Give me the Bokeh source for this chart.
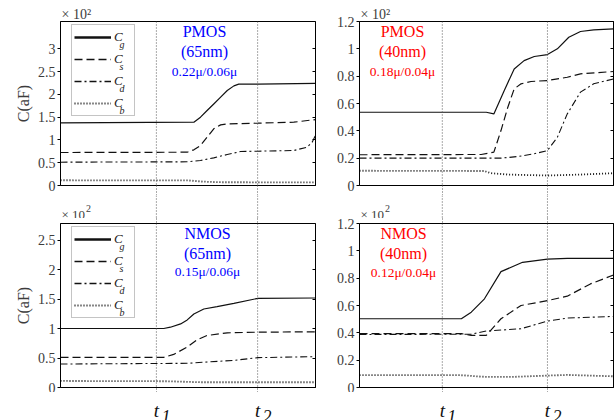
from bokeh.plotting import figure
from bokeh.models import (Range1d, LinearAxis, FixedTicker, Label, Legend,
                          LegendItem, Span, Title, CustomJSTickFormatter)
from bokeh.layouts import gridplot
from bokeh.embed import file_html
from bokeh.resources import INLINE

# ---------------- data (x = normalised time, y = C in units of 1e2 aF) ----------------
T_65 = [0.376, 0.773]          # t1, t2 (65nm column)
T_40 = [0.326, 0.740]          # t1, t2 (40nm column)
T_NAMES = ["1", "2"]

# PMOS 65nm
P65_CG_X = [0.0, 0.523, 0.549, 0.575, 0.601, 0.628, 0.654, 0.680, 0.699, 0.774, 1.0]
P65_CG_Y = [1.375, 1.39, 1.50, 1.646, 1.79, 1.94, 2.085, 2.187, 2.225, 2.225, 2.24]
P65_CS_X = [0.0, 0.497, 0.523, 0.549, 0.575, 0.601, 0.628, 0.654, 0.774, 0.915, 1.0]
P65_CS_Y = [0.724, 0.731, 0.783, 0.878, 1.061, 1.244, 1.331, 1.353, 1.368, 1.39, 1.448]
P65_CD_X = [0.0, 0.497, 0.549, 0.601, 0.654, 0.706, 0.774, 0.915, 0.967, 0.987, 1.0]
P65_CD_Y = [0.512, 0.52, 0.549, 0.607, 0.68, 0.746, 0.753, 0.768, 0.841, 0.951, 1.10]
P65_CB_X = [0.0, 0.50, 0.56, 0.62, 1.0]
P65_CB_Y = [0.115, 0.112, 0.085, 0.072, 0.068]

# PMOS 40nm
P40_CG_X = [0.0, 0.499, 0.529, 0.570, 0.609, 0.648, 0.688, 0.740, 0.779, 0.824, 0.870, 0.922, 1.0]
P40_CG_Y = [0.536, 0.536, 0.524, 0.695, 0.853, 0.914, 0.944, 0.958, 1.0, 1.085, 1.127, 1.139, 1.146]
P40_CS_X = [0.0, 0.479, 0.529, 0.557, 0.584, 0.609, 0.636, 0.675, 0.740, 0.818, 0.870, 1.0]
P40_CS_Y = [0.225, 0.227, 0.244, 0.402, 0.573, 0.707, 0.744, 0.761, 0.768, 0.792, 0.817, 0.834]
P40_CD_X = [0.0, 0.557, 0.623, 0.688, 0.740, 0.779, 0.818, 0.870, 0.922, 1.0]
P40_CD_Y = [0.200, 0.200, 0.212, 0.232, 0.256, 0.353, 0.524, 0.683, 0.744, 0.780]
P40_CB_X = [0.0, 0.49, 0.518, 0.584, 0.740, 0.870, 1.0]
P40_CB_Y = [0.108, 0.106, 0.090, 0.080, 0.073, 0.080, 0.090]

# NMOS 65nm
N65_CG_X = [0.0, 0.405, 0.431, 0.471, 0.497, 0.523, 0.562, 0.614, 0.680, 0.774, 1.0]
N65_CG_Y = [1.0, 1.0, 1.022, 1.078, 1.146, 1.247, 1.331, 1.37, 1.426, 1.511, 1.517]
N65_CS_X = [0.0, 0.405, 0.444, 0.497, 0.536, 0.575, 0.654, 0.774, 1.0]
N65_CS_Y = [0.511, 0.511, 0.561, 0.685, 0.809, 0.882, 0.927, 0.938, 0.944]
N65_CD_X = [0.0, 0.497, 0.575, 0.680, 0.774, 1.0]
N65_CD_Y = [0.398, 0.41, 0.432, 0.46, 0.506, 0.523]
N65_CB_X = [0.0, 0.418, 0.549, 1.0]
N65_CB_Y = [0.111, 0.106, 0.089, 0.089]

# NMOS 40nm
N40_CG_X = [0.0, 0.401, 0.440, 0.492, 0.557, 0.642, 0.740, 0.818, 1.0]
N40_CG_Y = [0.503, 0.503, 0.551, 0.649, 0.848, 0.916, 0.940, 0.945, 0.945]
N40_CS_X = [0.0, 0.401, 0.440, 0.499, 0.557, 0.636, 0.740, 0.818, 0.909, 1.0]
N40_CS_Y = [0.394, 0.394, 0.381, 0.381, 0.503, 0.600, 0.636, 0.668, 0.758, 0.823]
N40_CD_X = [0.0, 0.440, 0.499, 0.636, 0.740, 0.818, 1.0]
N40_CD_Y = [0.388, 0.390, 0.413, 0.430, 0.486, 0.508, 0.520]
N40_CB_X = [0.0, 0.40, 0.492, 0.609, 0.740, 0.818, 1.0]
N40_CB_Y = [0.090, 0.090, 0.078, 0.078, 0.087, 0.092, 0.082]

SERIES = ["g", "s", "d", "b"]

TICKS_65P = [0, 0.5, 1, 1.5, 2, 2.5, 3]
TICKS_65N = [0, 0.5, 1, 1.5, 2, 2.5]
TICKS_40 = [0, 0.2, 0.4, 0.6, 0.8, 1, 1.2]
YMAX_65P = 3.6
YMAX_65N = 2.78
YMAX_40 = 1.2

TITLE_P65 = ["PMOS", "(65nm)", "0.22μ/0.06μ"]
TITLE_P40 = ["PMOS", "(40nm)", "0.18μ/0.04μ"]
TITLE_N65 = ["NMOS", "(65nm)", "0.15μ/0.06μ"]
TITLE_N40 = ["NMOS", "(40nm)", "0.12μ/0.04μ"]

# ---------------- styles ----------------
FONT = "Liberation Serif"
GRAY = "#3c3c3c"
LINE_COLOR = "#111111"
GRID_COLOR = "#555555"
GRID_DASH = "1 2"
STYLE = {
    "g": dict(line_dash="solid", line_width=1.2),
    "s": dict(line_dash="8 4", line_width=1.2),
    "d": dict(line_dash="7 3 2 3", line_width=1.1),
    "b": dict(line_dash="1 2", line_width=1.8),
}
LEG_WIDTH = {"g": 2.6, "s": 1.5, "d": 1.5, "b": 1.8}

FRAME_H = 164
LEFT_W, RIGHT_W = 333, 282
LEFT_B, RIGHT_B = (60, 18), (24, 2)
TOP_BB = 10
TOP_H = 21 + FRAME_H + TOP_BB   # 195
GAP_H = 23
BOT_H = 5 + FRAME_H + 5         # 174
FOOT_H = 28

EMPTY = CustomJSTickFormatter(code="return '';")
NUMFMT = CustomJSTickFormatter(code="return String(Math.round(tick*100)/100);")


def tick_axis(ticks, out_len):
    """axis used only to draw dotted tick extensions of the t1/t2 lines"""
    return LinearAxis(ticker=FixedTicker(ticks=ticks), formatter=EMPTY,
                      major_tick_in=0, major_tick_out=out_len,
                      major_tick_line_color=GRID_COLOR, major_tick_line_dash=GRID_DASH,
                      minor_tick_line_color=None, axis_line_color=None,
                      major_label_standoff=0)


def make_panel(curves, ymax, ticks, tpos, title, title_color, title_xy,
               width, lr, top_row, ylabel, legend):
    bl, br = lr
    if top_row:
        bt, bb, h = 21, TOP_BB, TOP_H
    else:
        bt, bb, h = 5, 5, BOT_H
    p = figure(width=width, height=h, output_backend="svg", toolbar_location=None,
               x_range=Range1d(0, 1), y_range=Range1d(0, ymax),
               x_axis_location=None, y_axis_location="left",
               min_border_left=bl, min_border_right=br, min_border_top=bt,
               min_border_bottom=bb)
    p.background_fill_color = "white"
    p.border_fill_color = "white"
    p.outline_line_color = "black"
    p.outline_line_width = 1
    p.grid.visible = False

    ya = p.yaxis[0]
    ya.ticker = FixedTicker(ticks=ticks)
    ya.formatter = NUMFMT
    ya.major_tick_in = 0
    ya.major_tick_out = 3
    ya.minor_tick_line_color = None
    ya.axis_line_color = "black"
    ya.major_label_standoff = 2
    ya.major_label_text_font = FONT
    ya.major_label_text_font_size = "14px"
    ya.major_label_text_color = GRAY
    if ylabel:
        ya.axis_label = ylabel
        ya.axis_label_text_font = FONT
        ya.axis_label_text_font_style = "normal"
        ya.axis_label_text_font_size = "16px"
        ya.axis_label_text_color = GRAY
        ya.axis_label_standoff = 3

    ra = LinearAxis(ticker=FixedTicker(ticks=ticks), formatter=EMPTY,
                    major_tick_in=3, major_tick_out=0, minor_tick_line_color=None,
                    axis_line_color="black", major_label_standoff=0)
    p.add_layout(ra, "right")

    # dotted t1/t2 extensions outside the frame
    p.add_layout(tick_axis(tpos, bb), "below")
    if top_row:
        p.add_layout(Title(text="× 10²", align="left", offset=1, standoff=0,
                           text_font=FONT, text_font_size="14px", text_font_style="normal",
                           text_color=GRAY), "above")
    else:
        p.add_layout(tick_axis(tpos, bt), "above")

    # dotted t1/t2 lines inside
    for t in tpos:
        p.add_layout(Span(location=t, dimension="height", line_color=GRID_COLOR,
                          line_dash=GRID_DASH, line_width=1))

    # curves
    for key, xs, ys in curves:
        p.line(xs, ys, line_color=LINE_COLOR, **STYLE[key])

    # panel title texts
    tx, ty_px = title_xy
    sizes = ["16px", "16px", "13.5px"]
    for i, txt in enumerate(title):
        p.add_layout(Label(x=tx, y=FRAME_H - ty_px[i], x_units="screen", y_units="screen",
                           text=txt, text_align="center", text_baseline="middle",
                           text_font=FONT, text_font_size=sizes[i], text_color=title_color))

    # legend
    if legend:
        items = []
        nan = float("nan")
        for key in SERIES:
            st = dict(STYLE[key])
            st["line_width"] = LEG_WIDTH[key]
            r = p.line([nan, nan], [nan, nan], line_color=LINE_COLOR, **st)
            items.append(LegendItem(label="C", renderers=[r]))
        leg = Legend(items=items, location=(11, FRAME_H - 5 - 90), padding=2, spacing=2,
                     margin=0, glyph_height=20, glyph_width=37, label_height=20,
                     label_width=18, label_standoff=3,
                     label_text_font=FONT, label_text_font_style="italic",
                     label_text_font_size="13px", label_text_color="#222222",
                     border_line_color="#8a8a8a", border_line_width=1,
                     background_fill_alpha=0)
        p.add_layout(leg)
        for i, key in enumerate(SERIES):
            yc = FRAME_H - 5 - 2 - 10 - 22 * i - 6
            p.add_layout(Label(x=59, y=yc, x_units="screen", y_units="screen", text=key,
                               text_font=FONT, text_font_style="italic",
                               text_font_size="10px", text_color="#222222",
                               text_baseline="middle", level="overlay"))
    return p


def strip_fig(width, lr, height):
    bl, br = lr
    p = figure(width=width, height=height, output_backend="svg", toolbar_location=None,
               x_range=Range1d(0, 1), y_range=Range1d(0, 1),
               x_axis_location=None, y_axis_location=None,
               min_border_left=bl, min_border_right=br, min_border_top=0,
               min_border_bottom=0)
    p.grid.visible = False
    p.outline_line_color = None
    p.background_fill_color = "white"
    p.border_fill_color = "white"
    return p


def gap_fig(width, lr, tpos):
    p = strip_fig(width, lr, GAP_H)
    for t in tpos:
        p.add_layout(Span(location=t, dimension="height", line_color=GRID_COLOR,
                          line_dash=GRID_DASH, line_width=1))
    p.add_layout(Label(x=1, y=4.5, x_units="screen", y_units="screen", text="× 10",
                       text_font=FONT, text_font_size="13px", text_color=GRAY,
                       text_baseline="alphabetic"))
    p.add_layout(Label(x=25.5, y=10.5, x_units="screen", y_units="screen", text="2",
                       text_font=FONT, text_font_size="10px", text_color=GRAY,
                       text_baseline="alphabetic"))
    return p


def foot_fig(width, lr, tpos):
    p = strip_fig(width, lr, FOOT_H)
    for t, n in zip(tpos, T_NAMES):
        p.add_layout(Label(x=t, y=10.5, y_units="screen", text="t", text_align="center",
                           text_baseline="alphabetic", text_font=FONT,
                           text_font_style="italic", text_font_size="19px",
                           text_color="#111111"))
        p.add_layout(Label(x=t, y=4.5, y_units="screen", x_offset=5, text=n,
                           text_align="left", text_baseline="alphabetic",
                           text_font=FONT, text_font_style="italic",
                           text_font_size="18px", text_color="#111111"))
    return p


p1 = make_panel([("g", P65_CG_X, P65_CG_Y), ("s", P65_CS_X, P65_CS_Y),
                 ("d", P65_CD_X, P65_CD_Y), ("b", P65_CB_X, P65_CB_Y)],
                YMAX_65P, TICKS_65P, T_65, TITLE_P65, "#0000ff", (144, [10, 30, 50]),
                LEFT_W, LEFT_B, True, "C(aF)", True)
p2 = make_panel([("g", P40_CG_X, P40_CG_Y), ("s", P40_CS_X, P40_CS_Y),
                 ("d", P40_CD_X, P40_CD_Y), ("b", P40_CB_X, P40_CB_Y)],
                YMAX_40, TICKS_40, T_40, TITLE_P40, "#ff0000", (43, [10, 30, 50]),
                RIGHT_W, RIGHT_B, True, None, False)
p3 = make_panel([("g", N65_CG_X, N65_CG_Y), ("s", N65_CS_X, N65_CS_Y),
                 ("d", N65_CD_X, N65_CD_Y), ("b", N65_CB_X, N65_CB_Y)],
                YMAX_65N, TICKS_65N, T_65, TITLE_N65, "#0000ff", (147, [10, 30, 48]),
                LEFT_W, LEFT_B, False, "C(aF)", True)
p4 = make_panel([("g", N40_CG_X, N40_CG_Y), ("s", N40_CS_X, N40_CS_Y),
                 ("d", N40_CD_X, N40_CD_Y), ("b", N40_CB_X, N40_CB_Y)],
                YMAX_40, TICKS_40, T_40, TITLE_N40, "#ff0000", (44, [10, 30, 49]),
                RIGHT_W, RIGHT_B, False, None, False)

g1 = gap_fig(LEFT_W, LEFT_B, T_65)
g2 = gap_fig(RIGHT_W, RIGHT_B, T_40)
f1 = foot_fig(LEFT_W, LEFT_B, T_65)
f2 = foot_fig(RIGHT_W, RIGHT_B, T_40)

grid = gridplot([[p1, p2], [g1, g2], [p3, p4], [f1, f2]], toolbar_location=None)

with open("out.html", "w") as f:
    f.write(file_html(grid, INLINE))
